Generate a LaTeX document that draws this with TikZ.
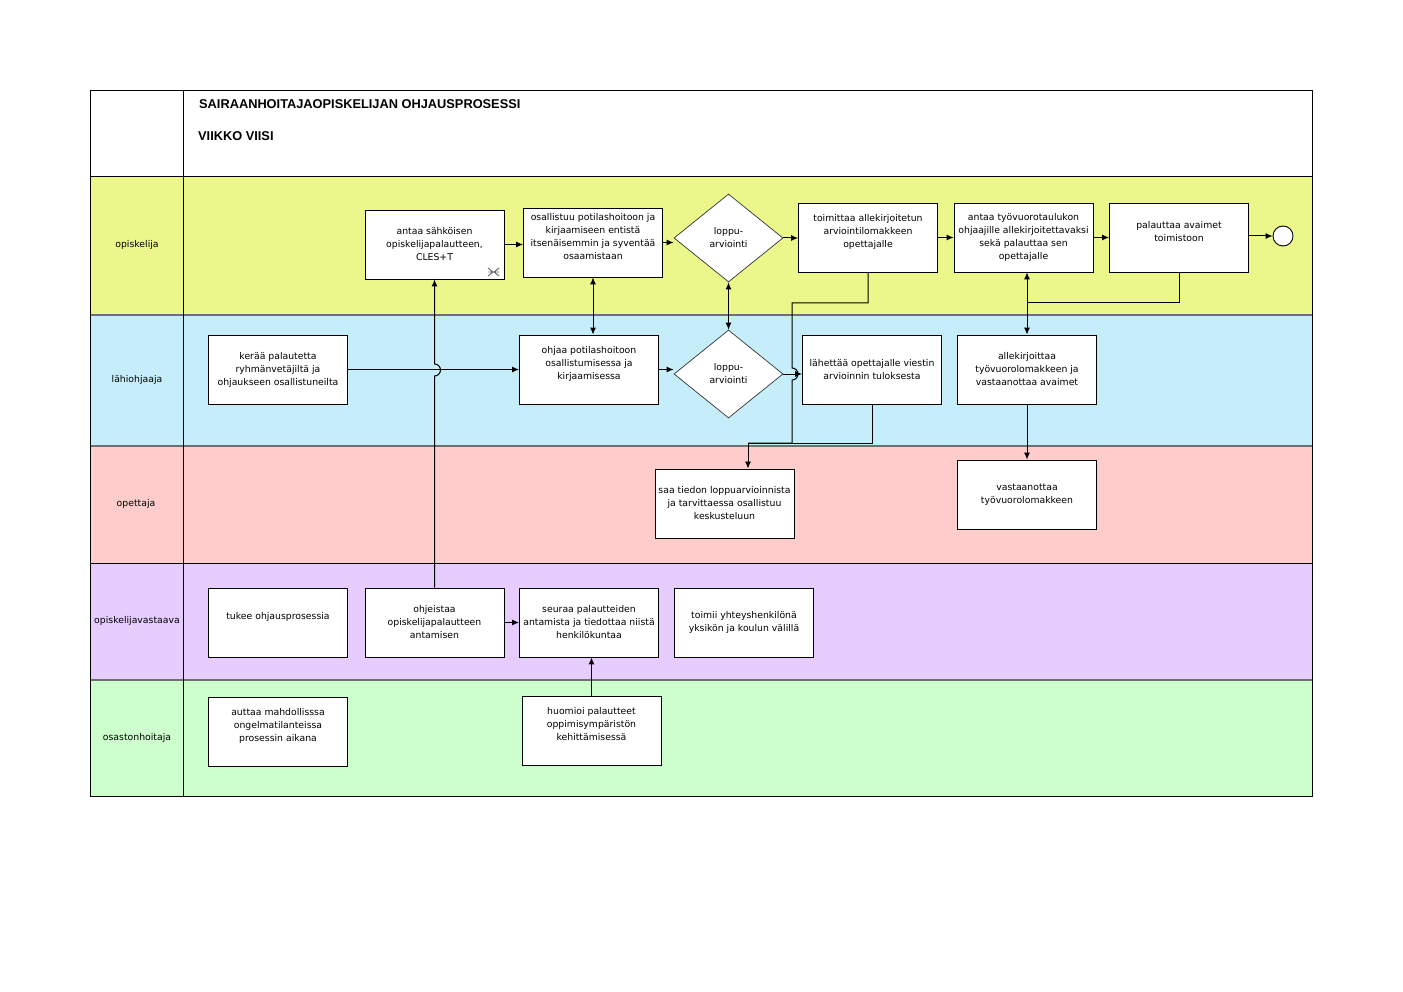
\documentclass[tikz,border=0pt]{standalone}
\usepackage{fontspec}
\setmainfont{DejaVu Sans}
\newfontfamily\titlefont{Liberation Sans}
\usetikzlibrary{arrows.meta,shapes.geometric}
\definecolor{laneY}{HTML}{EBF78A}
\definecolor{laneB}{HTML}{C5EEFA}
\definecolor{laneP}{HTML}{FFCCCC}
\definecolor{laneL}{HTML}{E6CCFF}
\definecolor{laneG}{HTML}{CCFFCC}
\definecolor{sepgray}{HTML}{6E7070}
\tikzset{
  box/.style={draw=black, fill=white, line width=0.9pt, minimum width=139pt, minimum height=69pt,
    inner sep=0pt, align=center, font=\fontsize{9.3}{13}\selectfont},
  dec/.style={draw=black!80, fill=white, line width=0.7pt, diamond, aspect=1.25, minimum width=109pt,
    minimum height=88pt, inner sep=0pt, align=center, font=\fontsize{9.3}{13}\selectfont},
  lanelabel/.style={font=\fontsize{9.3}{11}\selectfont, inner sep=0pt},
  conn/.style={line width=1pt, draw=black},
  arr/.style={conn, -{Latex[length=7pt,width=6pt]}},
  darr/.style={conn, {Latex[length=7pt,width=6pt]}-{Latex[length=7pt,width=6pt]}},
}
\begin{document}
\begin{tikzpicture}[x=1pt,y=-1pt]
\useasboundingbox (0,0) rectangle (1403,992);
% lanes
\fill[white] (90,90) rectangle (1312,176);
\fill[laneY] (90,176) rectangle (1312,315);
\fill[laneB] (90,315) rectangle (1312,446);
\fill[laneP] (90,446) rectangle (1312,563);
\fill[laneL] (90,563) rectangle (1312,680);
\fill[laneG] (90,680) rectangle (1312,796);
\draw[black, line width=0.9pt] (90,176) -- (1312,176);
\draw[sepgray, line width=1.8pt] (90,315) -- (1312,315);
\draw[sepgray, line width=1.8pt] (90,446) -- (1312,446);
\draw[black, line width=0.9pt] (90,563) -- (1312,563);
\draw[sepgray, line width=1.3pt] (90,680) -- (1312,680);
\draw[black, line width=0.9pt] (183,90) -- (183,796);
\draw[black, line width=0.9pt] (90,90) rectangle (1312,796);
% header
\node[anchor=west, font=\titlefont\bfseries\fontsize{12.8}{15}\selectfont, inner sep=0pt] (title) at (199,104) {SAIRAANHOITAJAOPISKELIJAN OHJAUSPROSESSI};
\node[anchor=west, font=\titlefont\bfseries\fontsize{12.8}{15}\selectfont, inner sep=0pt] (week) at (198,136) {VIIKKO VIISI};
% lane labels
\node[lanelabel] (L1) at (137,245) {opiskelija};
\node[lanelabel] (L2) at (137,380) {lähiohjaaja};
\node[lanelabel] (L3) at (136,504) {opettaja};
\node[lanelabel] (L4) at (137,621) {opiskelijavastaava};
\node[lanelabel] (L5) at (137,738) {osastonhoitaja};
% opiskelija
\node[box] (A1) at (434.5,244.5) {antaa sähköisen\\opiskelijapalautteen,\\CLES+T};
\node[box] (A2) at (593,242.5) {osallistuu potilashoitoon ja\\kirjaamiseen entistä\\itsenäisemmin ja syventää\\osaamistaan\\~};
\node[dec] (D1) at (728.5,238) {loppu-\\arviointi};
\node[box] (A3) at (868,237.5) {toimittaa allekirjoitetun\\arviointilomakkeen\\opettajalle\\~};
\node[box] (A4) at (1023.5,237.5) {antaa työvuorotaulukon\\ohjaajille allekirjoitettavaksi\\sekä palauttaa sen\\opettajalle};
\node[box] (A5) at (1179,237.5) {palauttaa avaimet\\toimistoon\\~};
\node[draw=black, fill=white, circle, line width=0.9pt, minimum size=20pt, inner sep=0pt] (End) at (1283,236) {};
% subprocess icon
\draw[black!60, line width=0.9pt] (488,268) -- (493,272) -- (488,276) (499,268) -- (494,272) -- (499,276) (488,272) -- (499,272);
% lahiohjaaja
\node[box] (B1) at (278,369.5) {kerää palautetta\\ryhmänvetäjiltä ja\\ohjaukseen osallistuneilta};
\node[box] (B2) at (589,369.5) {ohjaa potilashoitoon\\osallistumisessa ja\\kirjaamisessa\\~};
\node[dec] (D2) at (728.5,374) {loppu-\\arviointi};
\node[box] (B3) at (872,369.5) {lähettää opettajalle viestin\\arvioinnin tuloksesta};
\node[box] (B4) at (1027,369.5) {allekirjoittaa\\työvuorolomakkeen ja\\vastaanottaa avaimet};
% opettaja
\node[box] (C1) at (724.5,503.5) {saa tiedon loppuarvioinnista\\ja tarvittaessa osallistuu\\keskusteluun};
\node[box] (C2) at (1027,494.5) {vastaanottaa\\työvuorolomakkeen};
% opiskelijavastaava
\node[box] (E1) at (278,622.5) {tukee ohjausprosessia\\~};
\node[box] (E2) at (434.5,622.5) {ohjeistaa\\opiskelijapalautteen\\antamisen};
\node[box] (E3) at (589,622.5) {seuraa palautteiden\\antamista ja tiedottaa niistä\\henkilökuntaa};
\node[box] (E4) at (744,622.5) {toimii yhteyshenkilönä\\yksikön ja koulun välillä};
% osastonhoitaja
\node[box] (F1) at (278,731.5) {auttaa mahdollisssa\\ongelmatilanteissa\\prosessin aikana\\~};
\node[box] (F2) at (591.5,730.5) {huomioi palautteet\\oppimisympäristön\\kehittämisessä\\~};
% junction coordinates
\coordinate (p1) at (792,303);
\coordinate (j1) at (792,443);
\coordinate (j2) at (748,443);
\coordinate (j3) at (1027,303);
\coordinate (h1) at (434.5,376);
\coordinate (h2) at (792,368);
% connectors
\draw[arr] (A1.east) -- (A1.east -| A2.west);
\draw[arr] (A2.east) -- (A2.east -| D1.west);
\draw[arr] (D1.east) -- (D1.east -| A3.west);
\draw[arr] (A3.east) -- (A3.east -| A4.west);
\draw[arr] (A4.east) -- (A4.east -| A5.west);
\draw[arr] (A5.east |- End) -- (End.west);
\draw[darr] (A2.south) -- (A2.south |- B2.north);
\draw[darr] (D1.south) -- (D2.north);
\draw[darr] (B4.north |- A4.south) -- (B4.north);
\draw[conn] (A5.south) |- (j3);
\draw[arr] (B1.east) -- (B1.east -| B2.west);
\draw[arr] (E2.north) -- (h1) arc[start angle=90, end angle=-90, radius=6] -- (A1.south);
\draw[arr] (B2.east) -- (B2.east -| D2.west);
\draw[arr] (D2.east) -- (D2.east -| B3.west);
\draw[conn] (A3.south) |- (p1) -- (h2) arc[start angle=-90, end angle=90, radius=6] -- (j1) -- (j2);
\draw[arr] (B3.south) |- (j2) -- (j2 |- C1.north);
\draw[arr] (B4.south) -- (C2.north);
\draw[arr] (E2.east) -- (E2.east -| E3.west);
\draw[arr] (F2.north) -- (F2.north |- E3.south);
\end{tikzpicture}
\end{document}
